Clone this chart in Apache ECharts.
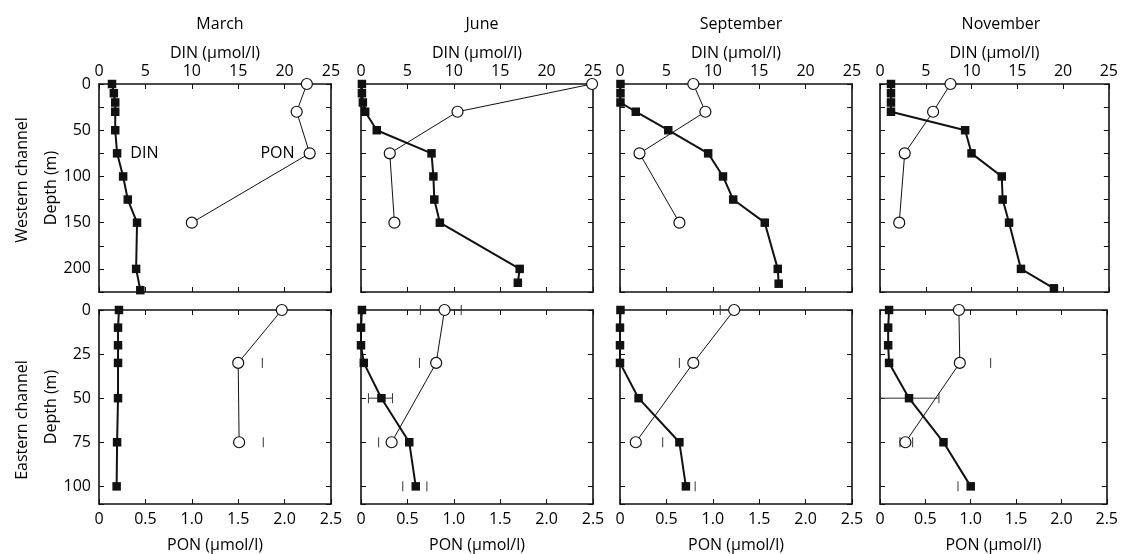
<!DOCTYPE html>
<html>
<head>
<meta charset="utf-8">
<script src="https://cdn.jsdelivr.net/npm/echarts@6/dist/echarts.min.js"></script>
<style>
  html, body { margin: 0; padding: 0; background: #fff; }
  #chart { width: 1121px; height: 554px; }
</style>
</head>
<body>
<div id="chart"></div>
<script>
// months (columns) and channels (rows)
const months = ['March', 'June', 'September', 'November'];
const channels = ['Western channel', 'Eastern channel'];

// Western channel, [value, depth]. DIN in µmol/l (top axis), PON in µmol/l (bottom axis)
const marchWestDIN = [[1.4, 0], [1.6, 10], [1.75, 20], [1.75, 30], [1.75, 50], [1.95, 75], [2.6, 100], [3.1, 125], [4.1, 150], [4.0, 200], [4.45, 223]];
const marchWestPON = [[2.24, 0], [2.13, 30], [2.27, 75], [1.0, 150]];
const juneWestDIN = [[0.1, 0], [0.1, 10], [0.2, 20], [0.45, 30], [1.7, 50], [7.6, 75], [7.8, 100], [7.9, 125], [8.5, 150], [17.1, 200], [16.9, 215]];
const juneWestPON = [[2.49, 0], [1.04, 30], [0.31, 75], [0.36, 150]];
const septWestDIN = [[0.05, 0], [0.05, 10], [0.05, 20], [1.7, 30], [5.2, 50], [9.5, 75], [11.1, 100], [12.2, 125], [15.6, 150], [17.0, 200], [17.1, 216]];
const septWestPON = [[0.79, 0], [0.92, 30], [0.21, 75], [0.64, 150]];
const novWestDIN = [[1.2, 0], [1.2, 10], [1.2, 20], [1.2, 30], [9.3, 50], [10.0, 75], [13.3, 100], [13.4, 125], [14.1, 150], [15.4, 200], [19.0, 221]];
const novWestPON = [[0.77, 0], [0.58, 30], [0.27, 75], [0.21, 150]];

// Eastern channel
const marchEastDIN = [[2.15, 0], [2.05, 10], [2.05, 20], [2.05, 30], [2.05, 50], [1.95, 75], [1.9, 100]];
const marchEastPON = [[1.97, 0], [1.5, 30], [1.51, 75]];
const juneEastDIN = [[0.1, 0], [0.0, 10], [0.0, 20], [0.3, 30], [2.2, 50], [5.2, 75], [5.9, 100]];
const juneEastPON = [[0.9, 0], [0.81, 30], [0.33, 75]];
const septEastDIN = [[0.05, 0], [0.0, 10], [0.0, 20], [0.0, 30], [2.0, 50], [6.4, 75], [7.1, 100]];
const septEastPON = [[1.23, 0], [0.79, 30], [0.17, 75]];
const novEastDIN = [[1.0, 0], [0.9, 10], [0.9, 20], [1.0, 30], [3.2, 50], [7.0, 75], [10.0, 100]];
const novEastPON = [[0.87, 0], [0.88, 30], [0.28, 75]];

// error bars on the PON scale: [depth, low, high, line drawn (1/0)]
const marchEastErr = [[30, 1.76, 1.76, 0], [75, 1.77, 1.77, 0]];
const juneEastErr = [[0, 0.64, 1.08, 1], [30, 0.63, 0.63, 0], [50, 0.08, 0.34, 1], [75, 0.19, 0.19, 0], [100, 0.45, 0.71, 0]];
const septEastErr = [[0, 1.08, 1.08, 0], [30, 0.64, 0.64, 0], [75, 0.46, 0.46, 0], [100, 0.81, 0.81, 0]];
const novEastErr = [[30, 1.22, 1.22, 0], [50, 0.0, 0.65, 1], [75, 0.22, 0.36, 0], [100, 0.86, 0.86, 0]];

const dinSets = [marchWestDIN, juneWestDIN, septWestDIN, novWestDIN, marchEastDIN, juneEastDIN, septEastDIN, novEastDIN];
const ponSets = [marchWestPON, juneWestPON, septWestPON, novWestPON, marchEastPON, juneEastPON, septEastPON, novEastPON];
const errSets = [[], [], [], [], marchEastErr, juneEastErr, septEastErr, novEastErr];

const font = '"Open Sans", sans-serif';
const ink = '#000';
const fs = 16;
const lefts = [99, 361, 620, 880];
const panelW = 232;
const rows = [{ top: 84, height: 208, max: 225 }, { top: 310, height: 200, max: 110 }];

const chart = echarts.init(document.getElementById('chart'));

const grids = [], xAxes = [], yAxes = [], series = [];
const axisLine = { show: true, onZero: false, lineStyle: { color: '#111', width: 1.6 } };
const axisTick = { show: true, inside: true, length: 5, lineStyle: { color: '#111', width: 1 } };
const labelStyle = { color: ink, fontSize: fs, fontFamily: font };

for (let g = 0; g < 8; g++) {
  const row = Math.floor(g / 4), col = g % 4;
  grids.push({ left: lefts[col], top: rows[row].top, width: panelW, height: rows[row].height });

  // DIN axis on top, PON axis on bottom
  xAxes.push({
    gridIndex: g, type: 'value', position: 'top', min: 0, max: 25, interval: 5,
    axisLine, axisTick, splitLine: { show: false },
    axisLabel: Object.assign({ show: row === 0, margin: 5 }, labelStyle),
    name: row === 0 ? 'DIN (µmol/l)' : '', nameLocation: 'middle', nameGap: 23,
    nameTextStyle: labelStyle
  });
  xAxes.push({
    gridIndex: g, type: 'value', position: 'bottom', min: 0, max: 2.5, interval: 0.5,
    axisLine, axisTick, splitLine: { show: false },
    axisLabel: Object.assign({ show: row === 1, margin: 7, formatter: v => v === 0 ? '0' : v.toFixed(1) }, labelStyle),
    name: row === 1 ? 'PON (µmol/l)' : '', nameLocation: 'middle', nameGap: 33,
    nameTextStyle: labelStyle
  });

  const yBase = {
    gridIndex: g, type: 'value', inverse: true, min: 0, max: rows[row].max, interval: 25,
    axisLine, axisTick, splitLine: { show: false }
  };
  yAxes.push(Object.assign({}, yBase, {
    position: 'left',
    axisLabel: Object.assign({
      show: col === 0, margin: 8,
      formatter: v => (row === 0 ? v % 50 === 0 : v <= 100) ? String(v) : ''
    }, labelStyle),
    name: col === 0 ? 'Depth (m)' : '', nameLocation: 'middle', nameGap: 40,
    nameTextStyle: labelStyle
  }));
  yAxes.push(Object.assign({}, yBase, { position: 'right', axisLabel: { show: false } }));

  // error bars (PON scale)
  if (errSets[g].length) {
    series.push({
      type: 'custom', xAxisIndex: 2 * g + 1, yAxisIndex: 2 * g, z: 1,
      encode: { x: [1, 2], y: 0 },
      data: errSets[g],
      renderItem: (params, api) => {
        const d = api.value(0), lo = api.value(1), hi = api.value(2), ln = api.value(3);
        const a = api.coord([lo, d]), b = api.coord([hi, d]);
        const st = { stroke: '#333', lineWidth: 1 };
        const kids = [];
        if (ln) kids.push({ type: 'line', shape: { x1: a[0], y1: a[1], x2: b[0], y2: b[1] }, style: st });
        kids.push({ type: 'line', shape: { x1: a[0], y1: a[1] - 5, x2: a[0], y2: a[1] + 5 }, style: st });
        if (hi !== lo) kids.push({ type: 'line', shape: { x1: b[0], y1: b[1] - 5, x2: b[0], y2: b[1] + 5 }, style: st });
        return { type: 'group', children: kids };
      }
    });
  }

  const tagged = (data, text, pos) => data.map(p => (g === 0 && p[1] === 75)
    ? { value: p, label: { show: true, formatter: text, position: pos, distance: 9, color: ink, fontSize: fs, fontFamily: font } }
    : p);

  series.push({
    type: 'line', name: 'PON', xAxisIndex: 2 * g + 1, yAxisIndex: 2 * g, z: 3,
    data: tagged(ponSets[g], 'PON', 'left'),
    symbol: 'circle', symbolSize: 11,
    lineStyle: { color: '#111', width: 1 },
    itemStyle: { color: '#fff', borderColor: '#111', borderWidth: 1.2 },
    animation: false
  });
  series.push({
    type: 'line', name: 'DIN', xAxisIndex: 2 * g, yAxisIndex: 2 * g, z: 4,
    data: tagged(dinSets[g], 'DIN', 'right'),
    symbol: 'rect', symbolSize: 8.5,
    lineStyle: { color: '#111', width: 2 },
    itemStyle: { color: '#111' },
    animation: false
  });
}

chart.setOption({
  backgroundColor: '#fff',
  animation: false,
  title: months.map((m, i) => ({
    text: m, left: lefts[i] + panelW / 2, top: 11, textAlign: 'center',
    textStyle: { fontSize: fs, fontWeight: 'normal', color: ink, fontFamily: font }
  })),
  graphic: channels.map((c, i) => ({
    type: 'text', x: 22, y: i === 0 ? 180 : 420, rotation: Math.PI / 2,
    style: { text: c, font: fs + 'px ' + font, fill: ink, align: 'center', verticalAlign: 'middle' }
  })),
  grid: grids,
  xAxis: xAxes,
  yAxis: yAxes,
  series: series
});
</script>
</body>
</html>
